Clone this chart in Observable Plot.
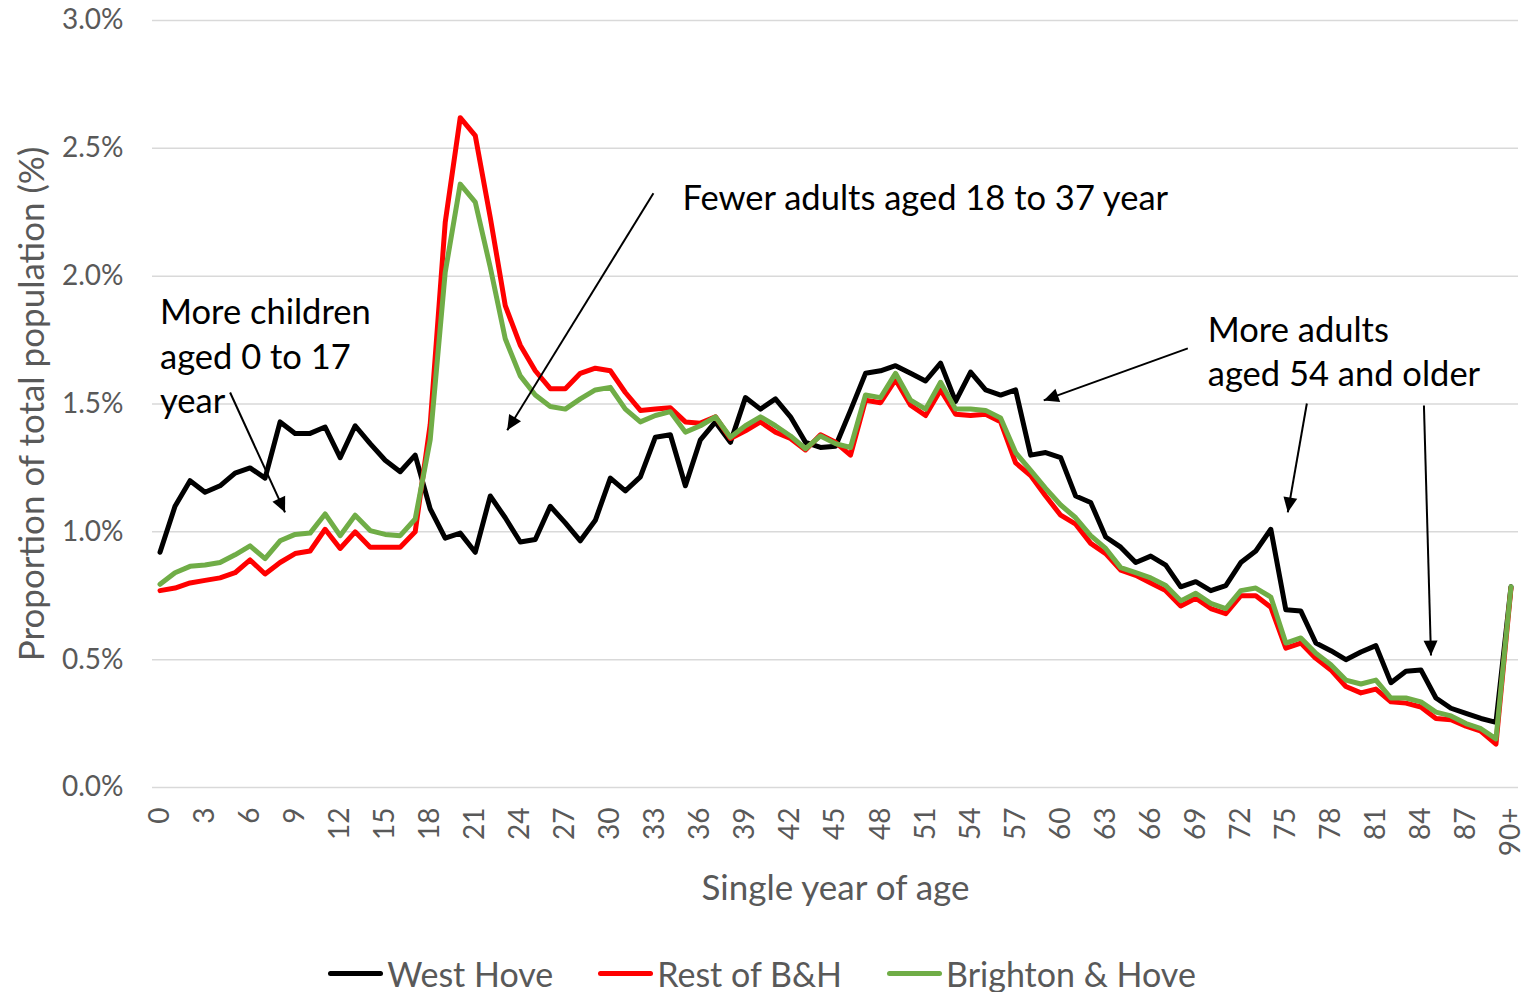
<!DOCTYPE html>
<html>
<head>
<meta charset="utf-8">
<script src="https://cdn.jsdelivr.net/npm/d3@7"></script>
<script src="https://cdn.jsdelivr.net/npm/@observablehq/plot@0.6"></script>
<style>
  html, body { margin: 0; padding: 0; background: #fff; }
  #wrap { position: relative; width: 1524px; height: 992px; font-family: Lato, "Open Sans", sans-serif; }
  #legend { position: absolute; left: 0; top: 950px; width: 1524px; height: 46px;
            display: flex; justify-content: center; align-items: center; gap: 45px;
            font-size: 34px; color: #595959; }
  .item { display: flex; align-items: center; }
  .sw { width: 55px; height: 5px; border-radius: 3px; margin-right: 4px; }
</style>
</head>
<body>
<div id="wrap"><div id="chart"></div><div id="legend"></div></div>
<script>
const ageLabels = ["0","1","2","3","4","5","6","7","8","9","10","11","12","13","14","15","16","17","18","19",
  "20","21","22","23","24","25","26","27","28","29","30","31","32","33","34","35","36","37","38","39",
  "40","41","42","43","44","45","46","47","48","49","50","51","52","53","54","55","56","57","58","59",
  "60","61","62","63","64","65","66","67","68","69","70","71","72","73","74","75","76","77","78","79",
  "80","81","82","83","84","85","86","87","88","89","90+"];

const westHove = [0.92,1.10,1.20,1.155,1.18,1.23,1.25,1.21,1.43,1.385,
  1.385,1.41,1.29,1.415,1.345,1.28,1.235,1.30,1.09,0.975,
  0.995,0.92,1.14,1.055,0.96,0.97,1.10,1.035,0.965,1.045,
  1.21,1.16,1.215,1.37,1.38,1.18,1.36,1.43,1.35,1.525,
  1.48,1.52,1.45,1.35,1.33,1.335,1.475,1.62,1.63,1.65,
  1.62,1.59,1.66,1.51,1.625,1.555,1.535,1.555,1.30,1.31,
  1.29,1.14,1.115,0.98,0.94,0.88,0.905,0.87,0.785,0.805,
  0.77,0.79,0.88,0.925,1.01,0.695,0.69,0.565,0.535,0.50,
  0.53,0.555,0.41,0.455,0.46,0.35,0.31,0.29,0.27,0.255,
  0.785];

const restBH = [0.77,0.78,0.80,0.81,0.82,0.84,0.89,0.835,0.88,0.915,
  0.925,1.01,0.935,1.00,0.94,0.94,0.94,1.00,1.42,2.21,
  2.62,2.55,2.23,1.885,1.73,1.63,1.56,1.56,1.62,1.64,
  1.63,1.545,1.475,1.48,1.485,1.43,1.425,1.45,1.365,1.395,
  1.43,1.39,1.365,1.32,1.38,1.35,1.30,1.515,1.505,1.595,
  1.495,1.455,1.555,1.46,1.455,1.46,1.43,1.27,1.22,1.14,
  1.065,1.03,0.955,0.915,0.85,0.83,0.80,0.77,0.71,0.74,
  0.70,0.68,0.75,0.75,0.705,0.545,0.565,0.505,0.46,0.395,
  0.37,0.385,0.335,0.33,0.315,0.27,0.265,0.24,0.22,0.17,
  0.78];

const brightonHove = [0.795,0.84,0.865,0.87,0.88,0.91,0.945,0.895,0.965,0.99,
  0.995,1.07,0.985,1.065,1.005,0.99,0.985,1.05,1.36,2.015,
  2.36,2.29,2.035,1.755,1.61,1.535,1.49,1.48,1.52,1.555,
  1.565,1.48,1.43,1.455,1.47,1.39,1.415,1.45,1.37,1.415,
  1.45,1.415,1.375,1.325,1.375,1.345,1.33,1.535,1.525,1.62,
  1.515,1.48,1.585,1.48,1.48,1.475,1.445,1.31,1.24,1.17,
  1.105,1.055,0.985,0.935,0.86,0.84,0.82,0.79,0.73,0.76,
  0.72,0.70,0.77,0.78,0.745,0.565,0.585,0.525,0.48,0.42,
  0.405,0.42,0.35,0.35,0.335,0.295,0.28,0.25,0.23,0.19,
  0.785];

const seriesNames = ["West Hove", "Rest of B&H", "Brighton & Hove"];
const seriesColors = ["#000000", "#FF0000", "#70AD47"];
const seriesValues = [westHove, restBH, brightonHove];

const yTicks = [0, 0.5, 1, 1.5, 2, 2.5, 3];
const xTickIndex = ageLabels.map((d, i) => i).filter(i => i % 3 === 0);

const notes = [
  {x: 0, y: 1.694, text: "More children\naged 0 to 17\nyear"},
  {x: 34.8, y: 2.316, text: "Fewer adults aged 18 to 37 year"},
  {x: 69.8, y: 1.712, text: "More adults\naged 54 and older"}
];
const arrows = [
  {x1: 4.67, y1: 1.545, x2: 8.33, y2: 1.076},
  {x1: 32.87, y1: 2.324, x2: 23.13, y2: 1.397},
  {x1: 68.47, y1: 1.7175, x2: 58.87, y2: 1.514},
  {x1: 76.4, y1: 1.502, x2: 75.13, y2: 1.076},
  {x1: 84.2, y1: 1.494, x2: 84.67, y2: 0.516}
];

const lineMarks = seriesValues.map((vals, k) =>
  Plot.line(vals, {x: (d, i) => i, y: d => d, stroke: seriesColors[k], strokeWidth: 5,
    strokeLinejoin: "round", strokeLinecap: "round"}));

const chart = Plot.plot({
  width: 1524,
  height: 930,
  marginLeft: 152,
  marginRight: 6,
  marginTop: 20,
  marginBottom: 143,
  x: {domain: [-0.5, 90.5]},
  y: {domain: [0, 3]},
  style: {fontFamily: "Lato, 'Open Sans', sans-serif", color: "#595959", background: "white", overflow: "visible"},
  marks: [
    Plot.gridY(yTicks, {stroke: "#d9d9d9", strokeOpacity: 1, strokeWidth: 1.5}),
    Plot.axisY(yTicks, {tickSize: 0, tickPadding: 29, tickFormat: d => d.toFixed(1) + "%", fontSize: 28, label: null}),
    Plot.axisX(xTickIndex, {tickSize: 0, tickPadding: 20, tickRotate: -90, tickFormat: i => ageLabels[i], fontSize: 28, label: null}),
    Plot.text(["Proportion of total population (%)"], {frameAnchor: "left", dx: -120, rotate: -90, textAnchor: "middle", lineAnchor: "middle", fontSize: 35, fill: "#595959"}),
    Plot.text(["Single year of age"], {frameAnchor: "bottom", dy: 101, textAnchor: "middle", lineAnchor: "middle", fontSize: 35, fill: "#595959"}),
    ...lineMarks,
    Plot.link(arrows, {x1: "x1", y1: "y1", x2: "x2", y2: "y2", stroke: "black", strokeWidth: 2, markerEnd: "arrow"}),
    Plot.text(notes, {x: "x", y: "y", text: "text", textAnchor: "start", lineAnchor: "middle", lineHeight: 1.28, fontSize: 34.5, fill: "black"})
  ]
});

// make arrow heads filled triangles
chart.querySelectorAll("marker").forEach(m => {
  m.setAttribute("viewBox", "-8 -4 8 8");
  m.setAttribute("markerWidth", 8);
  m.setAttribute("markerHeight", 8);
  m.setAttribute("fill", "black");
  m.setAttribute("stroke", "none");
  m.innerHTML = "";
  const p = document.createElementNS("http://www.w3.org/2000/svg", "path");
  p.setAttribute("d", "M-7.5,-3.5L0,0L-7.5,3.5Z");
  m.appendChild(p);
});

document.getElementById("chart").appendChild(chart);

const legend = document.getElementById("legend");
seriesNames.forEach((name, k) => {
  const item = document.createElement("div");
  item.className = "item";
  const sw = document.createElement("div");
  sw.className = "sw";
  sw.style.background = seriesColors[k];
  const label = document.createElement("span");
  label.textContent = name;
  item.appendChild(sw);
  item.appendChild(label);
  legend.appendChild(item);
});
</script>
</body>
</html>
